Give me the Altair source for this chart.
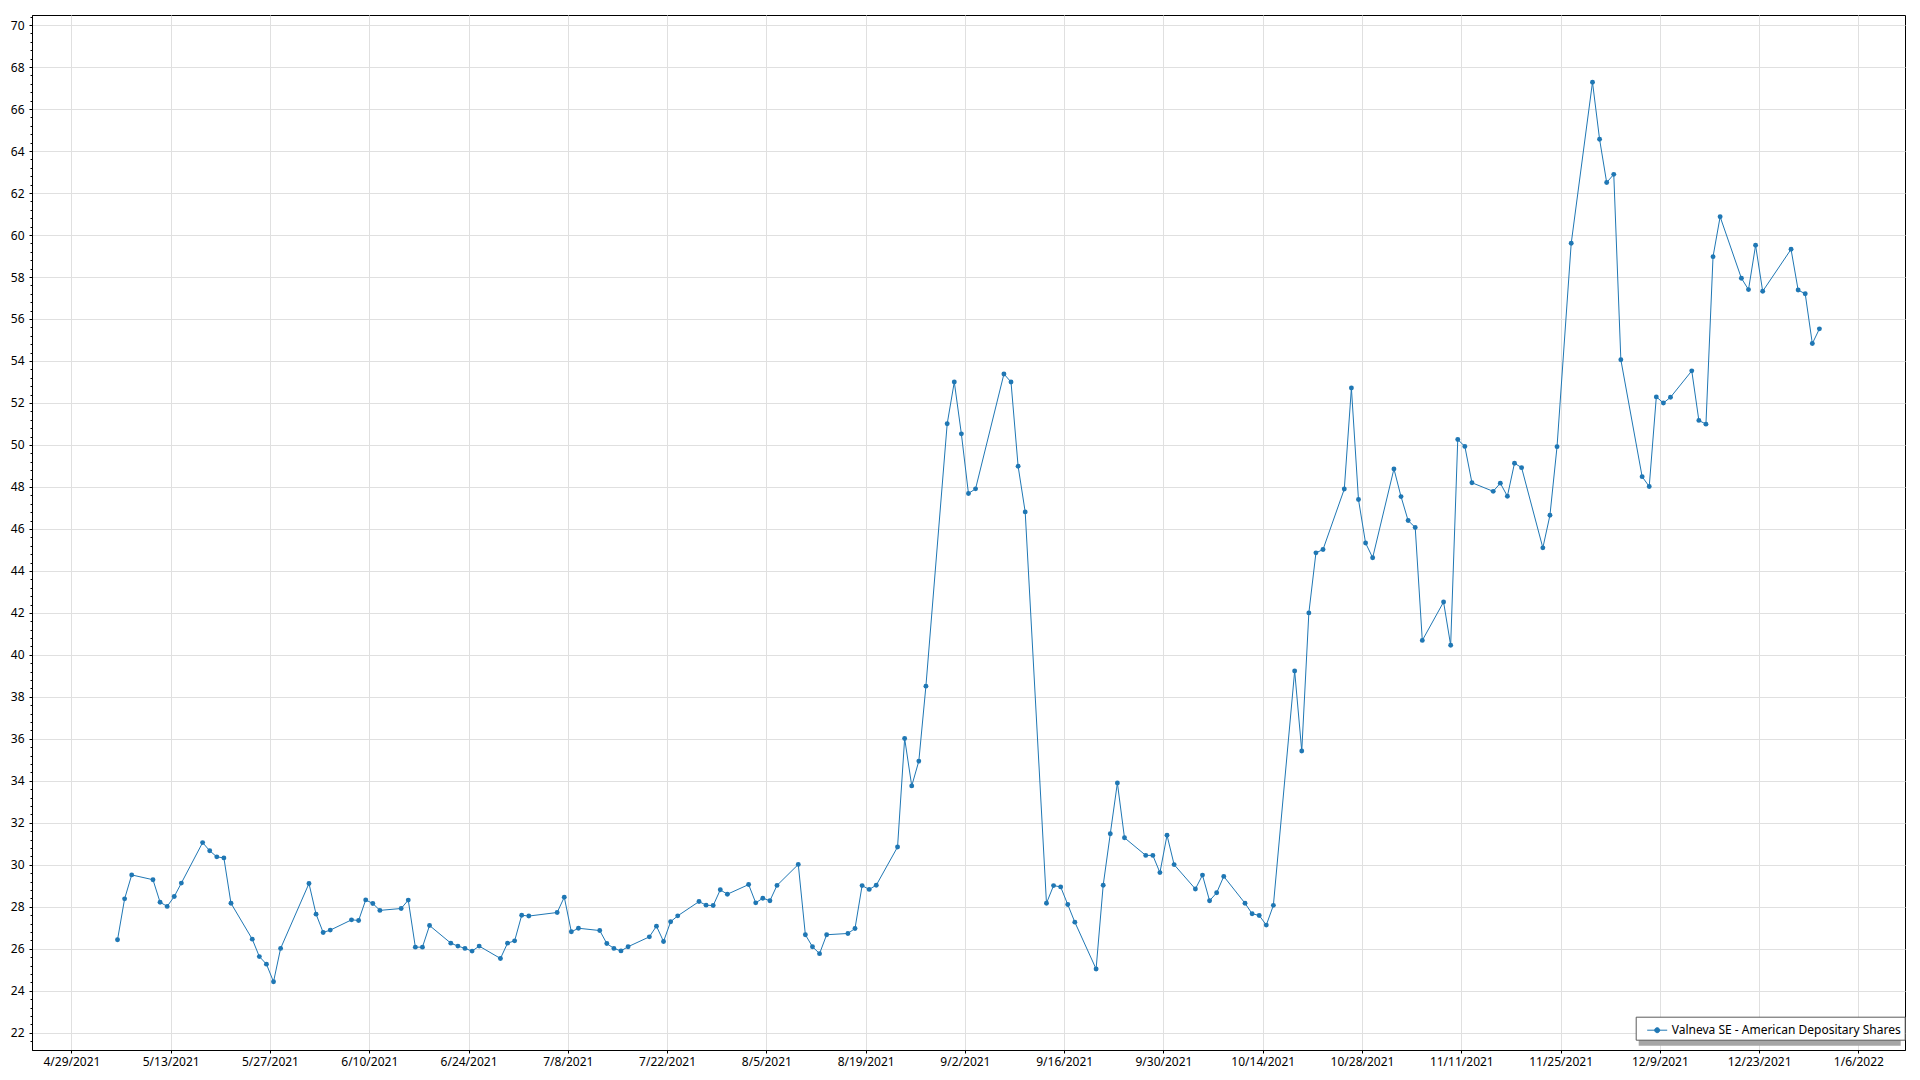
import altair as alt
import pandas as pd

# ---- data (trading days, closing value) ----
dates = [
    "2021-05-05", "2021-05-06", "2021-05-07", "2021-05-10", "2021-05-11", "2021-05-12", "2021-05-13", "2021-05-14",
    "2021-05-17", "2021-05-18", "2021-05-19", "2021-05-20", "2021-05-21", "2021-05-24", "2021-05-25", "2021-05-26",
    "2021-05-27", "2021-05-28",
    "2021-06-01", "2021-06-02", "2021-06-03", "2021-06-04", "2021-06-07", "2021-06-08", "2021-06-09", "2021-06-10",
    "2021-06-11", "2021-06-14", "2021-06-15", "2021-06-16", "2021-06-17", "2021-06-18", "2021-06-21", "2021-06-22",
    "2021-06-23", "2021-06-24", "2021-06-25", "2021-06-28", "2021-06-29", "2021-06-30",
    "2021-07-01", "2021-07-02", "2021-07-06", "2021-07-07", "2021-07-08", "2021-07-09", "2021-07-12", "2021-07-13",
    "2021-07-14", "2021-07-15", "2021-07-16", "2021-07-19", "2021-07-20", "2021-07-21", "2021-07-22", "2021-07-23",
    "2021-07-26", "2021-07-27", "2021-07-28", "2021-07-29", "2021-07-30",
    "2021-08-02", "2021-08-03", "2021-08-04", "2021-08-05", "2021-08-06", "2021-08-09", "2021-08-10", "2021-08-11",
    "2021-08-12", "2021-08-13", "2021-08-16", "2021-08-17", "2021-08-18", "2021-08-19", "2021-08-20", "2021-08-23",
    "2021-08-24", "2021-08-25", "2021-08-26", "2021-08-27", "2021-08-30", "2021-08-31",
    "2021-09-01", "2021-09-02", "2021-09-03", "2021-09-07", "2021-09-08", "2021-09-09", "2021-09-10", "2021-09-13",
    "2021-09-14", "2021-09-15", "2021-09-16", "2021-09-17", "2021-09-20", "2021-09-21", "2021-09-22", "2021-09-23",
    "2021-09-24", "2021-09-27", "2021-09-28", "2021-09-29", "2021-09-30",
    "2021-10-01", "2021-10-04", "2021-10-05", "2021-10-06", "2021-10-07", "2021-10-08", "2021-10-11", "2021-10-12",
    "2021-10-13", "2021-10-14", "2021-10-15", "2021-10-18", "2021-10-19", "2021-10-20", "2021-10-21", "2021-10-22",
    "2021-10-25", "2021-10-26", "2021-10-27", "2021-10-28", "2021-10-29",
    "2021-11-01", "2021-11-02", "2021-11-03", "2021-11-04", "2021-11-05", "2021-11-08", "2021-11-09", "2021-11-10",
    "2021-11-11", "2021-11-12", "2021-11-15", "2021-11-16", "2021-11-17", "2021-11-18", "2021-11-19", "2021-11-22",
    "2021-11-23", "2021-11-24", "2021-11-26", "2021-11-29", "2021-11-30",
    "2021-12-01", "2021-12-02", "2021-12-03", "2021-12-06", "2021-12-07", "2021-12-08", "2021-12-09", "2021-12-10",
    "2021-12-13", "2021-12-14", "2021-12-15", "2021-12-16", "2021-12-17", "2021-12-20", "2021-12-21", "2021-12-22",
    "2021-12-23", "2021-12-27", "2021-12-28", "2021-12-29", "2021-12-30", "2021-12-31",
]

values = [
    26.43, 28.38, 29.52, 29.29, 28.22, 28.02, 28.49, 29.13,
    31.06, 30.67, 30.38, 30.33, 28.17, 26.46, 25.63, 25.27,
    24.43, 26.02,
    29.11, 27.65, 26.78, 26.89, 27.38, 27.35, 28.33, 28.16,
    27.83, 27.92, 28.32, 26.08, 26.08, 27.11, 26.27, 26.13,
    26.02, 25.89, 26.13, 25.54, 26.27, 26.38,
    27.60, 27.56, 27.73, 28.46, 26.81, 26.98, 26.87, 26.25,
    26.02, 25.90, 26.10, 26.57, 27.08, 26.35, 27.29, 27.57,
    28.25, 28.08, 28.06, 28.81, 28.60,
    29.06, 28.19, 28.41, 28.29, 29.02, 30.02, 26.67, 26.10,
    25.77, 26.67, 26.73, 26.97, 29.01, 28.83, 29.03, 30.85,
    36.02, 33.76, 34.94, 38.51, 51.01, 53.00,
    50.53, 47.69, 47.91, 53.38, 53.00, 48.99, 46.81, 28.17,
    29.01, 28.95, 28.11, 27.27, 25.04, 29.03, 31.48, 33.90,
    31.29, 30.45, 30.45, 29.63, 31.41,
    30.01, 28.85, 29.51, 28.29, 28.67, 29.45, 28.17, 27.67,
    27.59, 27.13, 28.07, 39.23, 35.42, 42.00, 44.86, 45.02,
    47.90, 52.71, 47.40, 45.33, 44.63,
    48.86, 47.54, 46.40, 46.07, 40.69, 42.52, 40.46, 50.26,
    49.93, 48.20, 47.79, 48.18, 47.56, 49.13, 48.92, 45.10,
    46.65, 49.92, 59.61, 67.28, 64.56,
    62.50, 62.89, 54.06, 48.49, 48.02, 52.29, 52.00, 52.27,
    53.53, 51.17, 50.99, 58.97, 60.87, 57.94, 57.40, 59.51,
    57.32, 59.32, 57.38, 57.20, 54.83, 55.53,
]

series_name = "Valneva SE - American Depositary Shares"

# x-axis tick dates (every 14 days) and y-axis tick values (labels at even numbers)
x_tick_dates = [
    (2021, 4, 29), (2021, 5, 13), (2021, 5, 27), (2021, 6, 10), (2021, 6, 24), (2021, 7, 8), (2021, 7, 22),
    (2021, 8, 5), (2021, 8, 19), (2021, 9, 2), (2021, 9, 16), (2021, 9, 30), (2021, 10, 14), (2021, 10, 28),
    (2021, 11, 11), (2021, 11, 25), (2021, 12, 9), (2021, 12, 23), (2022, 1, 6),
]
y_ticks = [round(21.6 + 0.4 * i, 1) for i in range(123)]

df = pd.DataFrame({
    "date": pd.to_datetime(dates) + pd.Timedelta(hours=12),
    "value": values,
    "series": series_name,
})

FONT = "Noto Sans"
BLUE = "#1f77b4"

legend_symbol = "M-1,0H1M0.25,0A0.25,0.25,0,1,1,-0.25,0A0.25,0.25,0,1,1,0.25,0Z"

x_enc = alt.X(
    "date:T",
    title=None,
    scale=alt.Scale(domain=[
        alt.DateTime(year=2021, month=4, date=23, hours=10, minutes=34),
        alt.DateTime(year=2022, month=1, date=12, hours=13, minutes=40),
    ]),
    axis=alt.Axis(
        values=[alt.DateTime(year=y, month=m, date=d) for (y, m, d) in x_tick_dates],
        format="%-m/%-d/%Y",
        labelFlush=False,
        labelOverlap=False,
        tickSize=3,
        labelPadding=3,
        gridColor="#e0e0e0",
    ),
)

y_enc = alt.Y(
    "value:Q",
    title=None,
    scale=alt.Scale(domain=[21.18, 70.48], nice=False, zero=False),
    axis=alt.Axis(
        values=y_ticks,
        labelExpr="datum.value % 2 === 0 ? format(datum.value, 'd') : ''",
        labelOverlap=False,
        labelFlush=False,
        tickSize={"condition": {"test": "datum.value % 2 === 0", "value": 3}, "value": 2},
        gridOpacity={"condition": {"test": "datum.value % 2 === 0", "value": 1}, "value": 0},
        gridColor="#e0e0e0",
        labelPadding=5,
    ),
)

line = alt.Chart(df).mark_line(
    strokeWidth=1,
    point=alt.OverlayMarkDef(filled=True, size=24, opacity=1),
).encode(
    x=x_enc,
    y=y_enc,
    color=alt.Color(
        "series:N",
        scale=alt.Scale(range=[BLUE]),
        legend=alt.Legend(
            title=None,
            orient="none",
            legendX=1603.7,
            legendY=1001.7,
            fillColor="white",
            strokeColor="#5a5a5a",
            padding=3,
            symbolType=legend_symbol,
            symbolSize=400,
            symbolStrokeWidth=1,
            symbolFillColor=BLUE,
            symbolStrokeColor=BLUE,
            symbolOffset=8,
            labelOffset=4,
            labelLimit=0,
            labelFont=FONT,
            labelFontSize=12,
            labelColor="#000000",
            labelExpr="datum.label + '\u00a0\u00a0'",
        ),
    ),
)

shadow = alt.Chart(alt.Data(values=[{"k": 1}])).mark_rect(color="#a6a6a6").encode(
    x=alt.value(1606.7), x2=alt.value(1868.7), y=alt.value(1004.7), y2=alt.value(1030.7)
)

chart = alt.layer(shadow, line).properties(
    width=1873,
    height=1035,
    autosize=alt.AutoSizeParams(type="none"),
    padding={"left": 24, "top": 7, "right": 7, "bottom": 20},
).configure_view(
    stroke="#000000", strokeWidth=1
).configure_axis(
    domainColor="#000000",
    tickColor="#000000",
    labelColor="#000000",
    labelFont=FONT,
    labelFontSize=12,
    domainWidth=1,
)

chart.save("out.html", embed_options={"renderer": "svg", "actions": False})
